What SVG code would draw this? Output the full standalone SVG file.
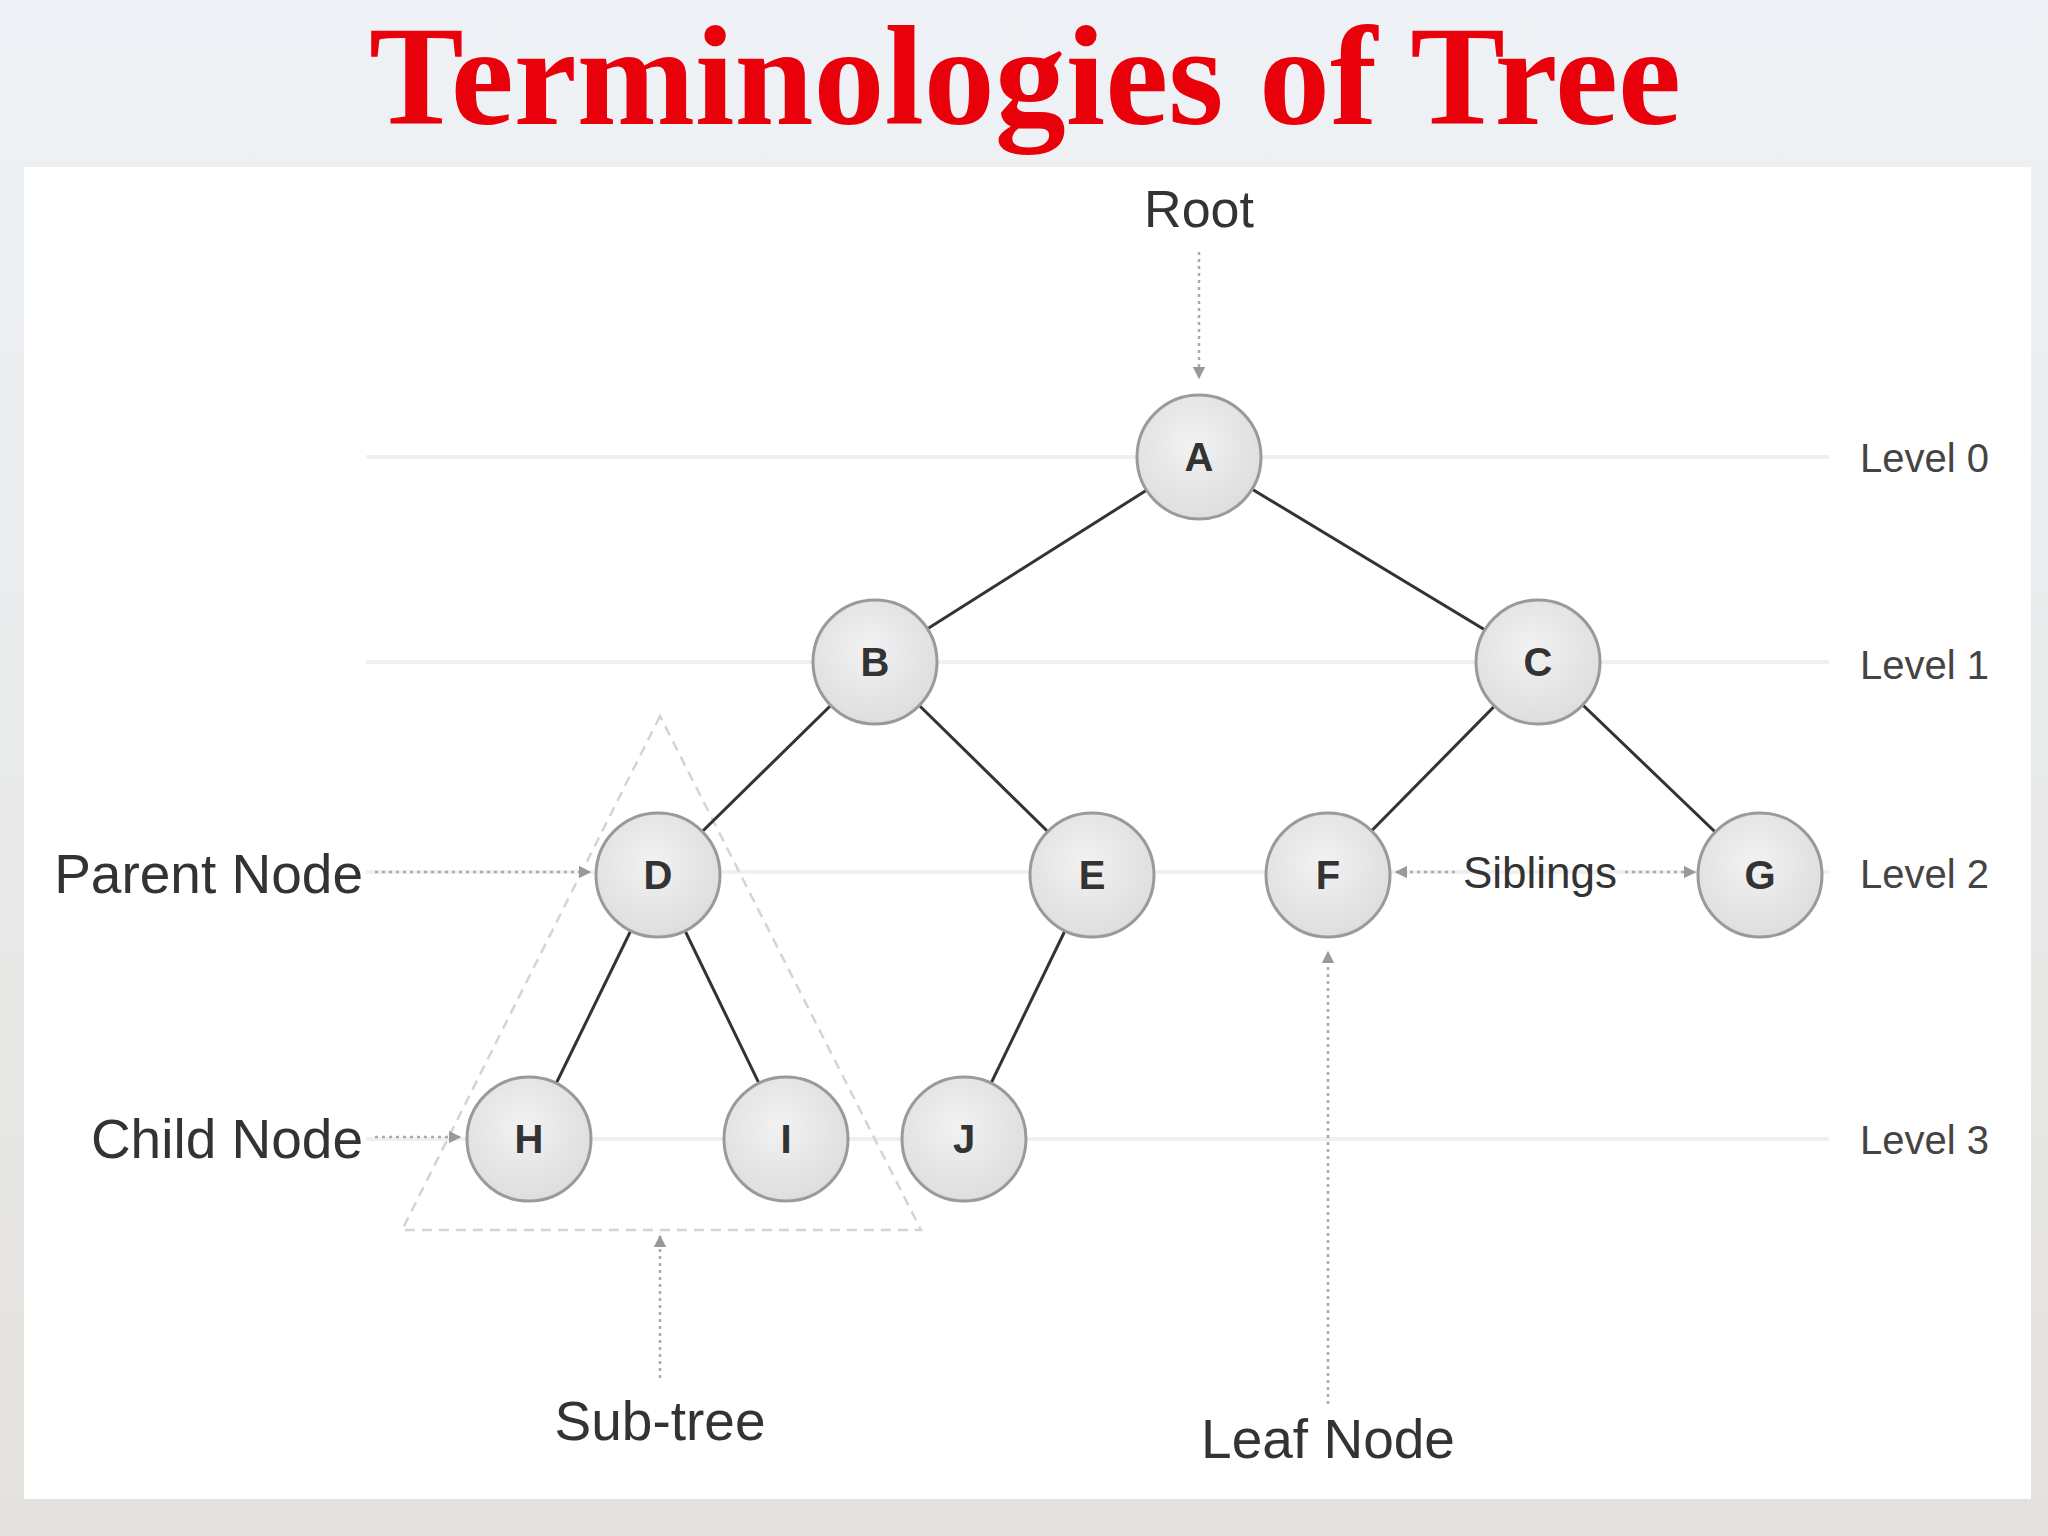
<svg xmlns="http://www.w3.org/2000/svg" width="2048" height="1536" viewBox="0 0 2048 1536">
<defs>
<linearGradient id="bg" x1="0" y1="0" x2="0" y2="1"><stop offset="0" stop-color="#eef2f6"/><stop offset="1" stop-color="#e4e2de"/></linearGradient>
<radialGradient id="nf" cx="0.45" cy="0.4" r="0.6"><stop offset="0" stop-color="#f2f2f2"/><stop offset="1" stop-color="#dedede"/></radialGradient>
<marker id="ah" viewBox="0 0 10 10" refX="9" refY="5" markerWidth="5" markerHeight="5" orient="auto"><path d="M0,0L10,5L0,10z" fill="#999"/></marker>
<style>
.node circle{fill:url(#nf);stroke:#9a9a9a;stroke-width:3}
.node text{font-family:"Liberation Sans",Arial,sans-serif;font-weight:bold;font-size:40px;fill:#333;text-anchor:middle}
.edge{stroke:#333;stroke-width:3}
.lvl{stroke:#f0f0f0;stroke-width:4}
.lab{font-family:"Liberation Sans",Arial,sans-serif;font-size:55px;fill:#333}
.lv{font-family:"Liberation Sans",Arial,sans-serif;font-size:40px;fill:#444}
.dot{stroke:#aaa;stroke-width:2.5;stroke-dasharray:3 4;fill:none;marker-end:url(#ah)}
</style>
</defs>
<rect width="2048" height="1536" fill="url(#bg)"/>
<rect x="24" y="167" width="2007" height="1332" fill="#fff"/>
<text x="1025" y="124" text-anchor="middle" font-family="'Liberation Serif','Times New Roman',serif" font-weight="bold" font-size="142" fill="#e8000b">Terminologies of Tree</text>
<g id="levels">
<line class="lvl" x1="366" y1="457" x2="1829" y2="457"/>
<line class="lvl" x1="366" y1="662" x2="1829" y2="662"/>
<line class="lvl" x1="366" y1="872" x2="1829" y2="872"/>
<line class="lvl" x1="366" y1="1139" x2="1829" y2="1139"/>
<text class="lv" x="1860" y="472">Level 0</text>
<text class="lv" x="1860" y="679">Level 1</text>
<text class="lv" x="1860" y="888">Level 2</text>
<text class="lv" x="1860" y="1154">Level 3</text>
</g>
<polygon id="subtree" points="660,716 402,1230 921,1230" fill="none" stroke="#d4d4d4" stroke-width="2.5" stroke-dasharray="10 7"/>
<g id="connectors">
<line class="edge" x1="1199" y1="457" x2="875" y2="662"/>
<line class="edge" x1="1199" y1="457" x2="1538" y2="662"/>
<line class="edge" x1="875" y1="662" x2="658" y2="875"/>
<line class="edge" x1="875" y1="662" x2="1092" y2="875"/>
<line class="edge" x1="1538" y1="662" x2="1328" y2="875"/>
<line class="edge" x1="1538" y1="662" x2="1760" y2="875"/>
<line class="edge" x1="658" y1="875" x2="529" y2="1139"/>
<line class="edge" x1="658" y1="875" x2="786" y2="1139"/>
<line class="edge" x1="1092" y1="875" x2="964" y2="1139"/>
<path class="dot" d="M1199,252V378"/>
<path class="dot" d="M375,872H590"/>
<path class="dot" d="M375,1137H460"/>
<path class="dot" d="M660,1378V1236"/>
<path class="dot" d="M1328,1404V952"/>
<path class="dot" d="M1455,872H1396"/>
<path class="dot" d="M1625,872H1695"/>
</g>
<g id="A" class="node"><circle cx="1199" cy="457" r="62"/><text x="1199" y="471">A</text></g>
<g id="B" class="node"><circle cx="875" cy="662" r="62"/><text x="875" y="676">B</text></g>
<g id="C" class="node"><circle cx="1538" cy="662" r="62"/><text x="1538" y="676">C</text></g>
<g id="D" class="node"><circle cx="658" cy="875" r="62"/><text x="658" y="889">D</text></g>
<g id="E" class="node"><circle cx="1092" cy="875" r="62"/><text x="1092" y="889">E</text></g>
<g id="F" class="node"><circle cx="1328" cy="875" r="62"/><text x="1328" y="889">F</text></g>
<g id="G" class="node"><circle cx="1760" cy="875" r="62"/><text x="1760" y="889">G</text></g>
<g id="H" class="node"><circle cx="529" cy="1139" r="62"/><text x="529" y="1153">H</text></g>
<g id="I" class="node"><circle cx="786" cy="1139" r="62"/><text x="786" y="1153">I</text></g>
<g id="J" class="node"><circle cx="964" cy="1139" r="62"/><text x="964" y="1153">J</text></g>
<g id="labels">
<text class="lab" x="1199" y="227" text-anchor="middle" style="font-size:52px">Root</text>
<text class="lab" x="363" y="893" text-anchor="end">Parent Node</text>
<text class="lab" x="363" y="1158" text-anchor="end">Child Node</text>
<text class="lab" x="1540" y="888" text-anchor="middle" style="font-size:44px">Siblings</text>
<text class="lab" x="660" y="1440" text-anchor="middle">Sub-tree</text>
<text class="lab" x="1328" y="1458" text-anchor="middle">Leaf Node</text>
</g>
</svg>
